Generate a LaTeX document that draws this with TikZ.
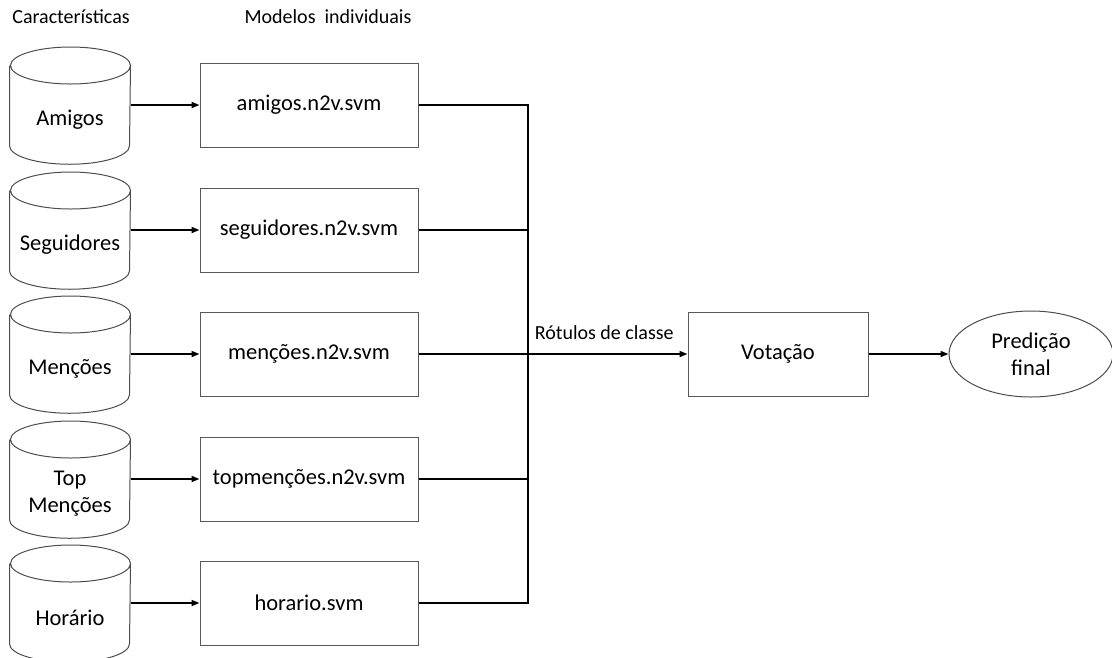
\documentclass[tikz,border=0pt]{standalone}
\usepackage{fontspec}
\setmainfont{Carlito}
\usetikzlibrary{positioning, shapes.geometric, arrows.meta}

\tikzset{
  feature/.style = {minimum width = 120pt, minimum height = 88.5pt, inner sep = 0pt},
  dbline/.style = {draw = black!70, line width = 1pt},
  model/.style = {draw = black!65, minimum width = 218pt, minimum height = 84pt},
  result/.style = {draw = black!70, shape = ellipse, minimum width = 164pt, minimum height = 86pt, inner sep = 1pt},
  heading/.style = {font = \fontsize{20}{24}\selectfont},
  link/.style = {-{Triangle[length = 8pt, width = 6pt]}, line width = 1.7pt},
  wire/.style = {line width = 1.7pt}
}

\begin{document}
\begin{tikzpicture}[x = 1pt, y = -1pt, line width = 1pt,
    every node/.style = {align = center, font = \fontsize{22.5}{27}\selectfont}]
  \useasboundingbox (0,0) rectangle (1112,657);

  \node [heading] (caracteristicas) at (71,17) {Características};
  \node [heading] (modelos) at (328,17) {Modelos\ \ individuais};

  \node [feature] (amigos)     at (70,119.5) {Amigos};
  \node [feature] (seguidores) at (70,244.5) {Seguidores};
  \node [feature] (mencoes)    at (70,368.5) {Menções};
  \node [feature] (topmencoes) at (70,493.5) {Top\\Menções};
  \node [feature] (horario)    at (70,617.5) {Horário};

  \foreach \n in {amigos, seguidores, mencoes, topmencoes, horario}
    \draw [dbline] ([yshift = 9.25pt]\n.north west) -- ([yshift = 18.5pt]\n.south west)
      arc [start angle = 180, end angle = 360, x radius = 60pt, y radius = 18.5pt]
      -- ([yshift = 9.25pt]\n.north east)
      arc [start angle = 0, end angle = 360, x radius = 60pt, y radius = 18.5pt];

  \node [model] (amigosm)     at (309,105) {amigos.n2v.svm};
  \node [model] (seguidoresm) at (309,230) {seguidores.n2v.svm};
  \node [model] (mencoesm)    at (309,354) {menções.n2v.svm};
  \node [model] (topmencoesm) at (309,479) {topmenções.n2v.svm};
  \node [model] (horariom)    at (309,603) {horario.svm};

  \coordinate (bus) at (528,354);

  \node [model, minimum width = 180pt] (votacao) at (778,354) {Votação};
  \node [result, right = 80pt of votacao] (predicao) {Predição\\final};
  \node [heading, anchor = south west] (rotulos) at (531,343) {Rótulos de classe};

  \draw [link] (amigos.east |- amigosm.west) -- (amigosm.west);
  \draw [link] (seguidores.east |- seguidoresm.west) -- (seguidoresm.west);
  \draw [link] (mencoes.east |- mencoesm.west) -- (mencoesm.west);
  \draw [link] (topmencoes.east |- topmencoesm.west) -- (topmencoesm.west);
  \draw [link] (horario.east |- horariom.west) -- (horariom.west);

  \draw [wire] (amigosm.east) -- (amigosm.east -| bus) -- (horariom.east -| bus) -- (horariom.east);
  \draw [wire] (seguidoresm.east) -- (seguidoresm.east -| bus);
  \draw [wire] (mencoesm.east) -- (bus);
  \draw [wire] (topmencoesm.east) -- (topmencoesm.east -| bus);

  \draw [link] (bus) -- (votacao);
  \draw [link] (votacao) -- (predicao);
\end{tikzpicture}
\end{document}
